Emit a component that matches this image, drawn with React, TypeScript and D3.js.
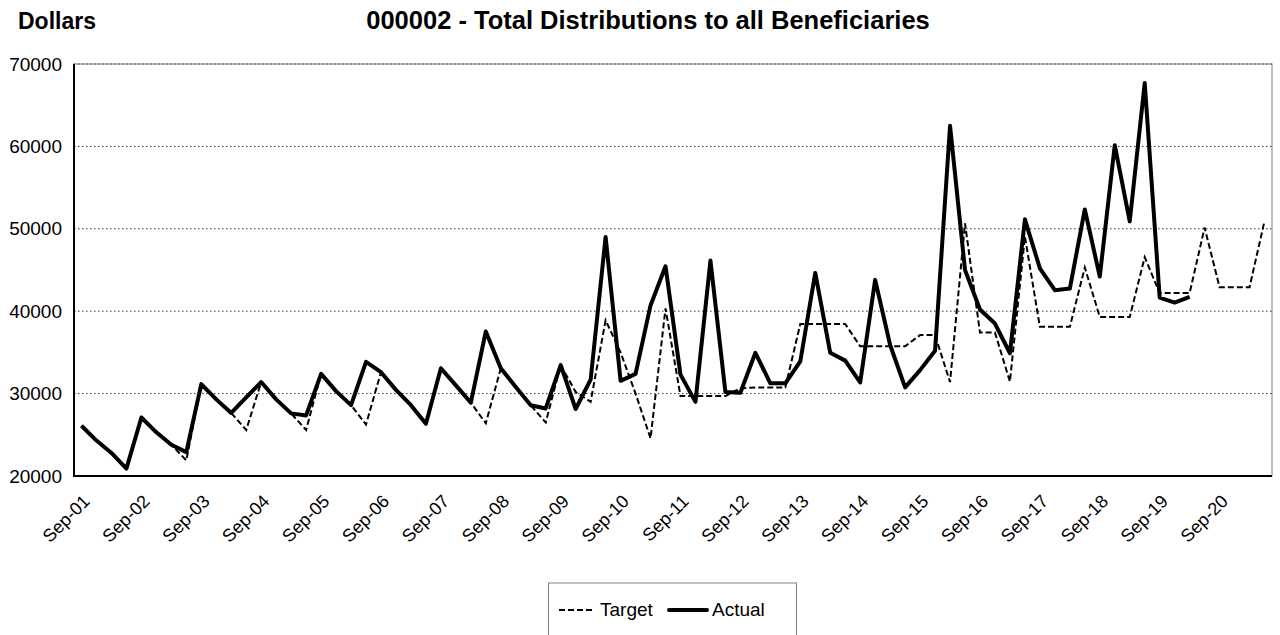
import * as d3 from "d3";

// quarter categories Sep-01 .. Jun-21
const months = ["Sep", "Dec", "Mar", "Jun"];
const categories: string[] = [];
for (let i = 0; i < 80; i++) {
  const yr = 1 + Math.floor((i + 1) / 4);
  categories.push(months[i % 4] + "-" + String(yr).padStart(2, "0"));
}

const tickLabels = [
  "Sep-01", "Sep-02", "Sep-03", "Sep-04", "Sep-05", "Sep-06", "Sep-07",
  "Sep-08", "Sep-09", "Sep-10", "Sep-11", "Sep-12", "Sep-13", "Sep-14",
  "Sep-15", "Sep-16", "Sep-17", "Sep-18", "Sep-19", "Sep-20",
];

const yTicks = [20000, 30000, 40000, 50000, 60000, 70000];

const actual = [
  26100, 24300, 22800, 20900, 27100, 25300, 23800, 22900,
  31150, 29300, 27650, 29550, 31400, 29300, 27600, 27350,
  32400, 30300, 28600, 33850, 32600, 30450, 28600, 26350,
  33070, 31000, 28900, 37550, 33070, 30800, 28580, 28200,
  33450, 28130, 31700, 49000, 31550, 32400, 40700, 45450,
  32300, 29000, 46150, 30200, 30100, 34950, 31250, 31250,
  33900, 44650, 34950, 34000, 31350, 43800, 35900, 30750,
  32850, 35200, 62500, 45000, 40200, 38500, 34900, 51150,
  45200, 42550, 42750, 52350, 44200, 60150, 50900, 67700,
  41650, 41050, 41750,
];

const target = [
  26100, 24300, 22800, 20900, 27100, 25300, 23800, 21900,
  31150, 29300, 27650, 25580, 31400, 29300, 27600, 25580,
  32400, 30300, 28600, 26250, 32600, 30450, 28600, 26350,
  33070, 31000, 28900, 26400, 33070, 30800, 28580, 26500,
  33450, 30200, 29000, 38900, 35000, 30000, 24570, 40350,
  29700, 29700, 29700, 29700, 30650, 30750, 30750, 30750,
  38450, 38450, 38450, 38450, 35750, 35750, 35750, 35750,
  37100, 37100, 31400, 50650, 37400, 37400, 31450, 49050,
  38100, 38100, 38100, 45300, 39300, 39300, 39300, 46550,
  42200, 42200, 42200, 50150, 42900, 42900, 42900, 50950,
];

const W = 1280;
const H = 635;
const plot = { left: 74, right: 1272, top: 64, bottom: 476 };
const font = "Arial, 'Liberation Sans', sans-serif";

export default function App() {
  const x = d3
    .scaleBand<string>()
    .domain(categories)
    .range([plot.left, plot.right]);
  const cx = (i: number) => (x(categories[i]) as number) + x.bandwidth() / 2;
  const y = d3
    .scaleLinear()
    .domain([20000, 70000])
    .range([plot.bottom, plot.top]);

  const line = d3
    .line<number>()
    .x((_, i) => cx(i))
    .y((d) => y(d));

  return (
    <svg
      width={W}
      height={H}
      style={{ position: "fixed", left: 0, top: 0, background: "#fff" }}
      fontFamily={font}
    >
      <text x={18} y={29} fontSize={23} fontWeight="bold">
        Dollars
      </text>
      <text x={648} y={29} fontSize={25.5} fontWeight="bold" textAnchor="middle">
        000002 - Total Distributions to all Beneficiaries
      </text>

      {/* plot frame */}
      <rect
        x={plot.left}
        y={plot.top}
        width={plot.right - plot.left}
        height={plot.bottom - plot.top}
        fill="none"
        stroke="#808080"
        strokeWidth={1}
      />
      {yTicks.slice(1).map((t) => (
        <line
          key={t}
          x1={plot.left}
          x2={plot.right}
          y1={y(t)}
          y2={y(t)}
          stroke="#333"
          strokeWidth={1}
          strokeDasharray="1.5,2.5"
        />
      ))}
      {yTicks.map((t) => (
        <text
          key={t}
          x={plot.left - 12}
          y={y(t)}
          dy="0.35em"
          fontSize={19}
          textAnchor="end"
        >
          {t}
        </text>
      ))}
      <line x1={plot.left} x2={plot.left} y1={plot.top} y2={plot.bottom + 1} stroke="#000" strokeWidth={2} />
      <line x1={plot.left} x2={plot.right} y1={plot.bottom} y2={plot.bottom} stroke="#000" strokeWidth={2} />

      {tickLabels.map((lab) => {
        const i = categories.indexOf(lab);
        const px = cx(i) + 5;
        const py = plot.bottom + 22;
        return (
          <text
            key={lab}
            transform={`translate(${px},${py}) rotate(-45)`}
            dy="0.35em"
            fontSize={18}
            textAnchor="end"
          >
            {lab}
          </text>
        );
      })}

      <path
        d={line(target) || ""}
        fill="none"
        stroke="#000"
        strokeWidth={2}
        strokeDasharray="6,3"
      />
      <path
        d={line(actual) || ""}
        fill="none"
        stroke="#000"
        strokeWidth={4}
        strokeLinejoin="round"
      />

      {/* legend */}
      <rect x={548.5} y={583} width={248} height={60} fill="#fff" stroke="#808080" strokeWidth={1} />
      <line x1={559} x2={594} y1={610} y2={610} stroke="#000" strokeWidth={2} strokeDasharray="6,3" />
      <text x={600} y={616} fontSize={19}>
        Target
      </text>
      <line x1={669} x2={707} y1={610} y2={610} stroke="#000" strokeWidth={4} strokeLinecap="round" />
      <text x={712} y={616} fontSize={19}>
        Actual
      </text>
    </svg>
  );
}
